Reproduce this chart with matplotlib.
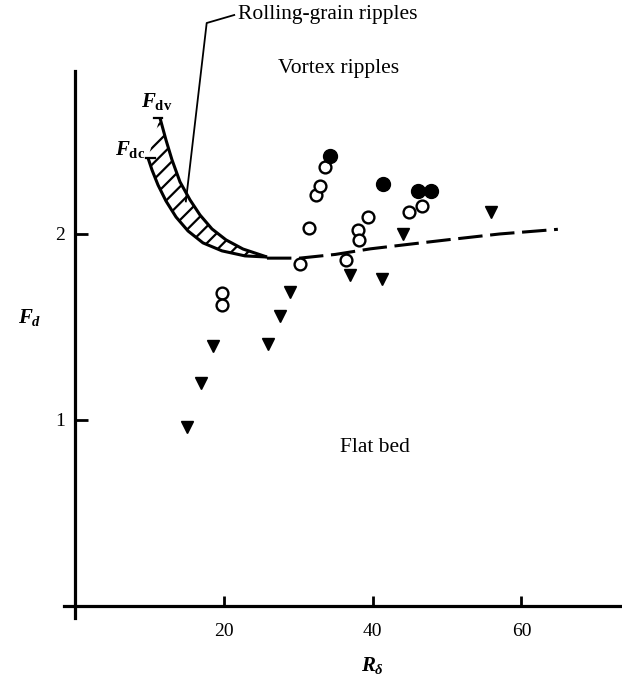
import numpy as np
import matplotlib.pyplot as plt

plt.rcParams['font.family'] = 'Liberation Serif'
plt.rcParams['mathtext.fontset'] = 'custom'
plt.rcParams['mathtext.it'] = 'Liberation Serif:italic:bold'
plt.rcParams['mathtext.rm'] = 'Liberation Serif:bold'
plt.rcParams['mathtext.bf'] = 'Liberation Serif:bold'
plt.rcParams['hatch.linewidth'] = 1.6

# flat bed observations (filled triangles)
tri_x = [15.1, 16.9, 18.5, 26.0, 27.5, 28.9, 36.9, 41.3, 44.1, 55.9]
tri_y = [0.96, 1.20, 1.40, 1.41, 1.56, 1.69, 1.78, 1.76, 2.00, 2.12]

# vortex ripples (open circles)
open_x = [19.7, 19.7, 30.2, 31.4, 32.4, 32.9, 33.6, 36.4, 38.0, 38.2, 39.4, 44.9, 46.7]
open_y = [1.68, 1.62, 1.84, 2.03, 2.21, 2.26, 2.36, 1.86, 2.02, 1.97, 2.09, 2.12, 2.15]

# filled circles
filled_x = [34.3, 41.4, 46.1, 47.8]
filled_y = [2.42, 2.27, 2.23, 2.23]

# rolling-grain ripple band: F_dv (upper) and F_dc (lower)
fdv_x = [11.42, 12.23, 13.04, 14.11, 15.46, 16.80, 18.41, 20.30, 22.58, 25.81]
fdv_y = [2.624, 2.505, 2.398, 2.280, 2.183, 2.102, 2.027, 1.968, 1.919, 1.876]
fdc_x = [9.81, 10.35, 11.16, 12.23, 13.58, 15.19, 17.20, 19.76, 22.85, 25.81]
fdc_y = [2.409, 2.344, 2.263, 2.177, 2.091, 2.016, 1.952, 1.909, 1.882, 1.876]

# flat bed / vortex ripple boundary (dashed)
bnd_x = [25.8, 30.2, 35.0, 39.7, 45.0, 50.4, 57.1, 64.9]
bnd_y = [1.87, 1.87, 1.89, 1.92, 1.945, 1.97, 2.00, 2.025]

# leader line from the label to the band
lead_x = [21.4, 17.7, 14.9]
lead_y = [3.177, 3.134, 2.175]

W, H = 622, 684
fig = plt.figure(figsize=(W / 100, H / 100), dpi=100)
ax = fig.add_axes([64 / W, (H - 620) / H, 558 / W, 549 / H])
ax.set_xlim(-1.478, 73.52)
ax.set_ylim(-0.0753, 2.876)

for s in ['top', 'right']:
    ax.spines[s].set_visible(False)
ax.spines['left'].set_position(('data', 0))
ax.spines['bottom'].set_position(('data', 0))
ax.spines['left'].set_bounds(-0.065, 2.876)
ax.spines['bottom'].set_bounds(-1.478, 73.52)
for s in ['left', 'bottom']:
    ax.spines[s].set_linewidth(2.3)

ax.set_xticks([20, 40, 60])
ax.set_yticks([1, 2])
ax.tick_params(axis='x', direction='in', length=7.5, width=2, pad=12, labelsize=14)
ax.tick_params(axis='y', direction='in', length=9, width=2, pad=7, labelsize=14)

# hatched band between the two edges
ax.fill(fdv_x + fdc_x[::-1], fdv_y + fdc_y[::-1], facecolor='none',
        edgecolor='black', hatch='//', linewidth=0)
ax.plot(fdv_x, fdv_y, color='black', lw=2.2, solid_capstyle='butt')
ax.plot(fdc_x, fdc_y, color='black', lw=2.2, solid_capstyle='butt')

# small end ticks at the top of each edge
ax.plot([fdv_x[0] - 0.8, fdv_x[0] + 0.3], [fdv_y[0], fdv_y[0]], color='black', lw=1.6)
ax.plot([fdc_x[0] - 0.3, fdc_x[0] + 0.9], [fdc_y[0], fdc_y[0]], color='black', lw=1.6)

ax.plot(bnd_x, bnd_y, color='black', lw=2.2, dashes=(8, 2.5))

ax.plot(tri_x, tri_y, 'v', color='black', ms=8.5)
ax.plot(open_x, open_y, 'o', mfc='white', mec='black', mew=1.7, ms=8.5)
ax.plot(filled_x, filled_y, 'o', color='black', ms=10)

ax.plot(lead_x, lead_y, color='black', lw=1.3, clip_on=False)

fig.text(238 / W, 1 - 14 / H, 'Rolling-grain ripples', fontsize=15.5, va='center', ha='left')
fig.text(278 / W, 1 - 68 / H, 'Vortex ripples', fontsize=15.5, va='center', ha='left')
fig.text(375 / W, 1 - 448 / H, 'Flat bed', fontsize=15.5, va='center', ha='center')
fig.text(157 / W, 1 - 101 / H, r'$F_{\mathrm{dv}}$', fontsize=15, va='center', ha='center')
fig.text(130 / W, 1 - 150 / H, r'$F_{\mathrm{dc}}$', fontsize=15, va='center', ha='center')
fig.text(30 / W, 1 - 318 / H, r'$F_{d}$', fontsize=15, va='center', ha='center')
fig.text(373 / W, 1 - 665 / H, r'$R_{\delta}$', fontsize=15, va='center', ha='center')

fig.savefig('out.png', dpi=100)
